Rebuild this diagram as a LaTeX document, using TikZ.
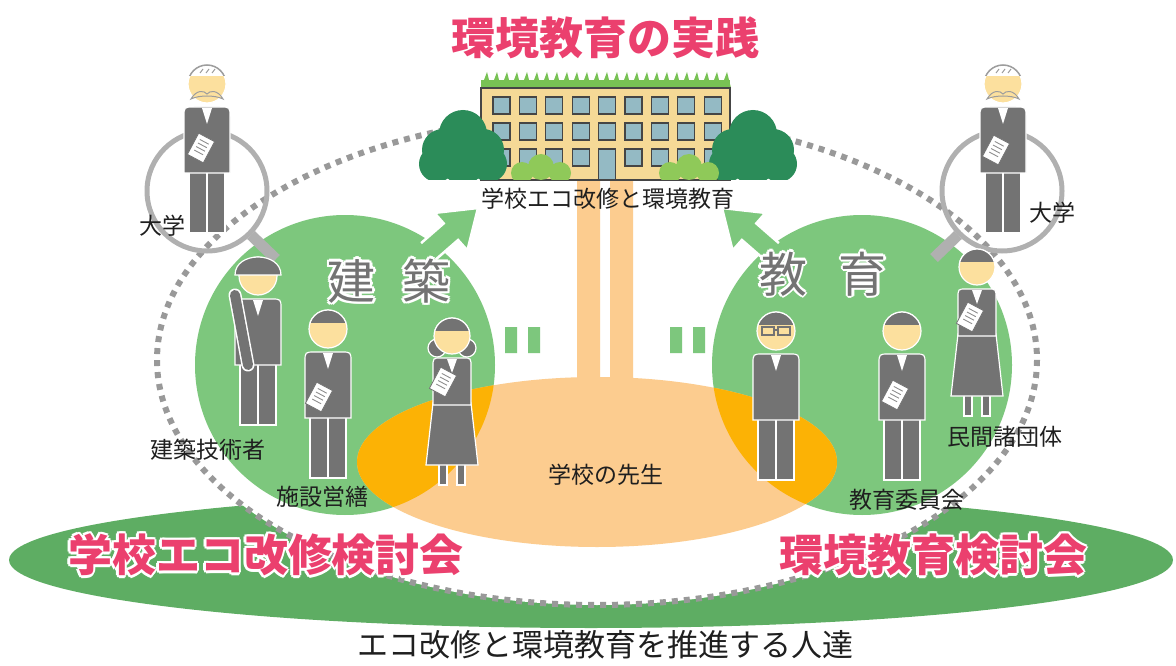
\documentclass[tikz,border=0pt]{standalone}
\usepackage{fontspec}
\setmainfont{Noto Sans CJK JP}
\usepackage{tikz}
\usetikzlibrary{positioning}
\definecolor{suit}{rgb}{0.45, 0.45, 0.45}
\definecolor{skin}{rgb}{0.99, 0.88, 0.62}
\definecolor{fieldgreen}{rgb}{0.49, 0.78, 0.49}
\definecolor{basegreen}{rgb}{0.37, 0.68, 0.39}
\definecolor{treegreen}{rgb}{0.17, 0.55, 0.35}
\definecolor{shrubgreen}{rgb}{0.56, 0.79, 0.35}
\definecolor{grassgreen}{rgb}{0.47, 0.76, 0.33}
\definecolor{peach}{rgb}{0.99, 0.80, 0.56}
\definecolor{deeporange}{rgb}{0.99, 0.70, 0.02}
\definecolor{ecopink}{rgb}{0.92, 0.25, 0.43}
\definecolor{wallcol}{rgb}{0.96, 0.85, 0.59}
\definecolor{glass}{rgb}{0.58, 0.73, 0.77}
\definecolor{outline}{rgb}{0.27, 0.27, 0.27}
\definecolor{dotgray}{rgb}{0.6, 0.6, 0.6}
\definecolor{lensgray}{rgb}{0.69, 0.69, 0.69}

% figures are drawn in a local frame: x = centre line, y = down from the top of the head
\newcommand{\paperdoc}[2]{%
  \begin{scope}[shift={(#1,#2)},rotate=-28]
    \filldraw[fill=white,draw=suit,line width=0.8pt] (-9,-12) rectangle (9,12);
    \foreach \k in {-7,-3,1,5}
      \draw[suit!80,line width=0.9pt] (-5,\k) -- (5,\k);
  \end{scope}}
\newcommand{\suitman}[3]{%
  \begin{scope}[shift={(#1,#2)}]
    \filldraw[suit,draw=white,line width=1.2pt] (-18,106) rectangle (18,170);
    \draw[white,line width=1.2pt] (0,108) -- (0,170);
    \filldraw[suit,draw=white,line width=1.2pt] (-23,110) -- (-23,54)
      .. controls (-23,44) .. (-13,44) -- (13,44) .. controls (23,44) .. (23,54)
      -- (23,110) -- cycle;
    \fill[white] (-5,45) -- (5,45) -- (0,61) -- cycle;
    \filldraw[skin,draw=white,line width=1.2pt] (0,21) circle[radius=19];
    #3
  \end{scope}}
\newcommand{\skirtwoman}[3]{%
  \begin{scope}[shift={(#1,#2)}]
    #3
    \filldraw[suit,draw=white,line width=1.2pt] (-13,144) rectangle (-5,168) (5,144) rectangle (13,168);
    \filldraw[suit,draw=white,line width=1.2pt] (-19,86) -- (19,86) -- (26,148) -- (-26,148) -- cycle;
    \filldraw[suit,draw=white,line width=1.2pt] (-19,88) -- (-19,50)
      .. controls (-19,41) .. (-11,41) -- (11,41) .. controls (19,41) .. (19,50)
      -- (19,88) -- cycle;
    \fill[white] (-5,42) -- (5,42) -- (0,56) -- cycle;
    \filldraw[skin,draw=white,line width=1.2pt] (0,19) circle[radius=18];
    \begin{scope}
      \clip (-20,-2) rectangle (20,13);
      \filldraw[suit,draw=white,line width=1.2pt] (0,19) circle[radius=18];
    \end{scope}
  \end{scope}}
\newcommand{\shorthair}{%
  \begin{scope}
    \clip (-21,-2) rectangle (21,14);
    \filldraw[suit,draw=white,line width=1.2pt] (0,21) circle[radius=19];
  \end{scope}}
\newcommand{\profhead}{%
  \begin{scope}
    \clip (-21,-2) rectangle (21,13);
    \filldraw[fill=white,draw=suit!70,line width=1.5pt] (0,21) circle[radius=19];
  \end{scope}
  \draw[suit!70,line width=1pt] (-7,10) -- (-4,6) (-1,10) -- (2,6) (5,10) -- (8,6);
  \filldraw[fill=skin,draw=suit!70,line width=1pt] (-16,36) .. controls (-11,27) and (-3,27) .. (0,31)
    .. controls (3,27) and (11,27) .. (16,36) .. controls (8,32) and (-8,32) .. cycle;}
\newcommand{\glasses}{%
  \draw[suit,line width=1.3pt] (-14,17) rectangle (-2,25) (2,17) rectangle (14,25) (-2,20) -- (2,20);}
\newcommand{\helmet}{%
  \filldraw[suit,draw=white,line width=1.2pt] (-23,20) .. controls (-23,-4) and (23,-4) .. (23,20) -- cycle;}
\newcommand{\salute}{%
  \draw[white,line width=13pt,line cap=round] (-23,40) -- (-10,110);
  \draw[suit,line width=10pt,line cap=round] (-23,40) -- (-10,110);}
\newcommand{\bobhair}{%
  \filldraw[suit,draw=white,line width=1.2pt] (-15,31) circle[radius=9] (15,31) circle[radius=9];}
\newcommand{\bigtree}[1]{%
  \begin{scope}[shift={(#1,0)}]
    \clip (-50,100) rectangle (50,180);
    \fill[treegreen] (0,134) circle[radius=24] (-20,150) circle[radius=21] (20,150) circle[radius=21]
      (-26,164) circle[radius=18] (26,164) circle[radius=18] (0,160) circle[radius=24];
  \end{scope}}
\newcommand{\shrubs}[1]{%
  \begin{scope}[shift={(#1,0)}]
    \clip (-35,140) rectangle (35,180);
    \fill[shrubgreen] (-19,173) circle[radius=11] (0,167) circle[radius=13] (19,173) circle[radius=11];
  \end{scope}}
% text with a white rim
\newcommand{\haloat}[4]{%
  \foreach \hx/\hy in {2.5/0,-2.5/0,0/2.5,0/-2.5,1.8/1.8,-1.8/1.8,1.8/-1.8,-1.8/-1.8}
    \node[#3,text=white,xshift=\hx pt,yshift=\hy pt] at (#2) {#4};
  \node[#3] (#1) at (#2) {#4};}

\begin{document}
\begin{tikzpicture}[x=1pt,y=-1pt,
  label node/.style={font=\fontsize{23}{26}\selectfont,text=black!88,inner sep=0pt},
  title node/.style={font=\fontsize{44}{48}\selectfont\bfseries,text=ecopink,inner sep=0pt},
  field node/.style={font=\fontsize{48}{52}\selectfont,text=suit,inner sep=0pt},
  caption node/.style={font=\fontsize{31}{34}\selectfont,text=black!88,inner sep=0pt},
  frame/.style={draw=outline,line width=1.4pt},
  lens/.style={draw=lensgray,line width=5pt}]
  \useasboundingbox (0,0) rectangle (1176,666);

  % ground and the dotted circle of people
  \fill[basegreen] (591,560) ellipse [x radius=582, y radius=68];
  \filldraw[fill=white,draw=dotgray,line width=6pt,dash pattern=on 6pt off 6pt]
    (597,360) ellipse [x radius=440, y radius=245];

  % the two fields with their arrows
  \fill[fieldgreen] (345,365) circle[radius=150];
  \fill[fieldgreen] (862,365) circle[radius=150];
  \filldraw[fieldgreen,draw=white,line width=2.5pt] (421.1,243.1) -- (443.7,223.4) -- (434.5,212.9)
    -- (478,208) -- (467.4,250.5) -- (458.1,240.0) -- (435.5,259.7);
  \filldraw[fieldgreen,draw=white,line width=2.5pt] (778.9,243.1) -- (756.3,223.4) -- (765.5,212.9)
    -- (722,208) -- (732.6,250.5) -- (741.9,240.0) -- (764.5,259.7);
  \fill[fieldgreen] (505,327) rectangle (517,353) (528,327) rectangle (540,353)
    (670,327) rectangle (682,353) (693,327) rectangle (705,353);

  % teachers' area and the road to the school
  \fill[peach] (597,462) ellipse [x radius=240, y radius=85];
  \begin{scope}
    \clip (597,462) ellipse [x radius=240, y radius=85];
    \fill[deeporange] (345,365) circle[radius=150] (862,365) circle[radius=150];
  \end{scope}
  \fill[peach] (577,180) rectangle (600,400) (610,180) rectangle (633,400);

  % school building
  \fill[grassgreen] (481,80) rectangle (730,88);
  \foreach \i in {0,...,24}
    \fill[grassgreen] (481+10*\i,88) -- (487+10*\i,72) -- (491+10*\i,88) -- cycle;
  \filldraw[fill=wallcol,frame] (481,88) rectangle (730,180);
  \foreach \c in {0,...,8}
    \foreach \r in {0,1,2}
      \filldraw[fill=glass,draw=outline,line width=1.3pt] (493+26.4*\c,97+26*\r) rectangle ++(17,17);
  \filldraw[fill=glass,draw=outline,line width=1.3pt] (598.6,149) rectangle (615.6,180);
  \bigtree{463}
  \bigtree{753}
  \shrubs{541}
  \shrubs{689}

  \node[title node] (title) at (605,38) {環境教育の実践};
  \node[label node] (school) at (608,199) {学校エコ改修と環境教育};

  % magnifiers
  \draw[lens] (207,191) circle[radius=60];
  \draw[lensgray,line width=11pt] (251,235) -- (276,259);
  \draw[lens] (1002,191) circle[radius=60];
  \draw[lensgray,line width=11pt] (958,235) -- (934,258);

  % people
  \suitman{207}{63}{\profhead}
  \paperdoc{201}{148}
  \suitman{1003}{63}{\profhead}
  \paperdoc{996}{150}
  \suitman{258}{255}{\helmet\salute}
  \suitman{328}{308}{\shorthair}
  \paperdoc{319}{397}
  \skirtwoman{452}{317}{\bobhair}
  \paperdoc{443}{382}
  \suitman{776}{310}{\shorthair\glasses}
  \suitman{902}{310}{\shorthair}
  \paperdoc{895}{395}
  \skirtwoman{977}{248}{}
  \paperdoc{970}{317}

  \haloat{arch}{389,281}{field node}{建\hspace{27pt}築}
  \haloat{edu}{823,274}{field node}{教\hspace{32pt}育}

  \node[label node] (univL) at (162,226) {大学};
  \node[label node] (engineer) at (208,450) {建築技術者};
  \node[label node] (facility) at (322,497) {施設営繕};
  \node[label node] (teacher) at (606,475) {学校の先生};
  \node[label node] (board) at (907,500) {教育委員会};
  \node[label node] (private) at (1005,437) {民間諸団体};
  \node[label node] (univR) at (1052,213) {大学};

  \haloat{ecoboard}{266,555}{title node}{学校エコ改修検討会}
  \haloat{eduboard}{933,555}{title node}{環境教育検討会}
  \node[caption node] (caption) at (605,645) {エコ改修と環境教育を推進する人達};
\end{tikzpicture}
\end{document}
